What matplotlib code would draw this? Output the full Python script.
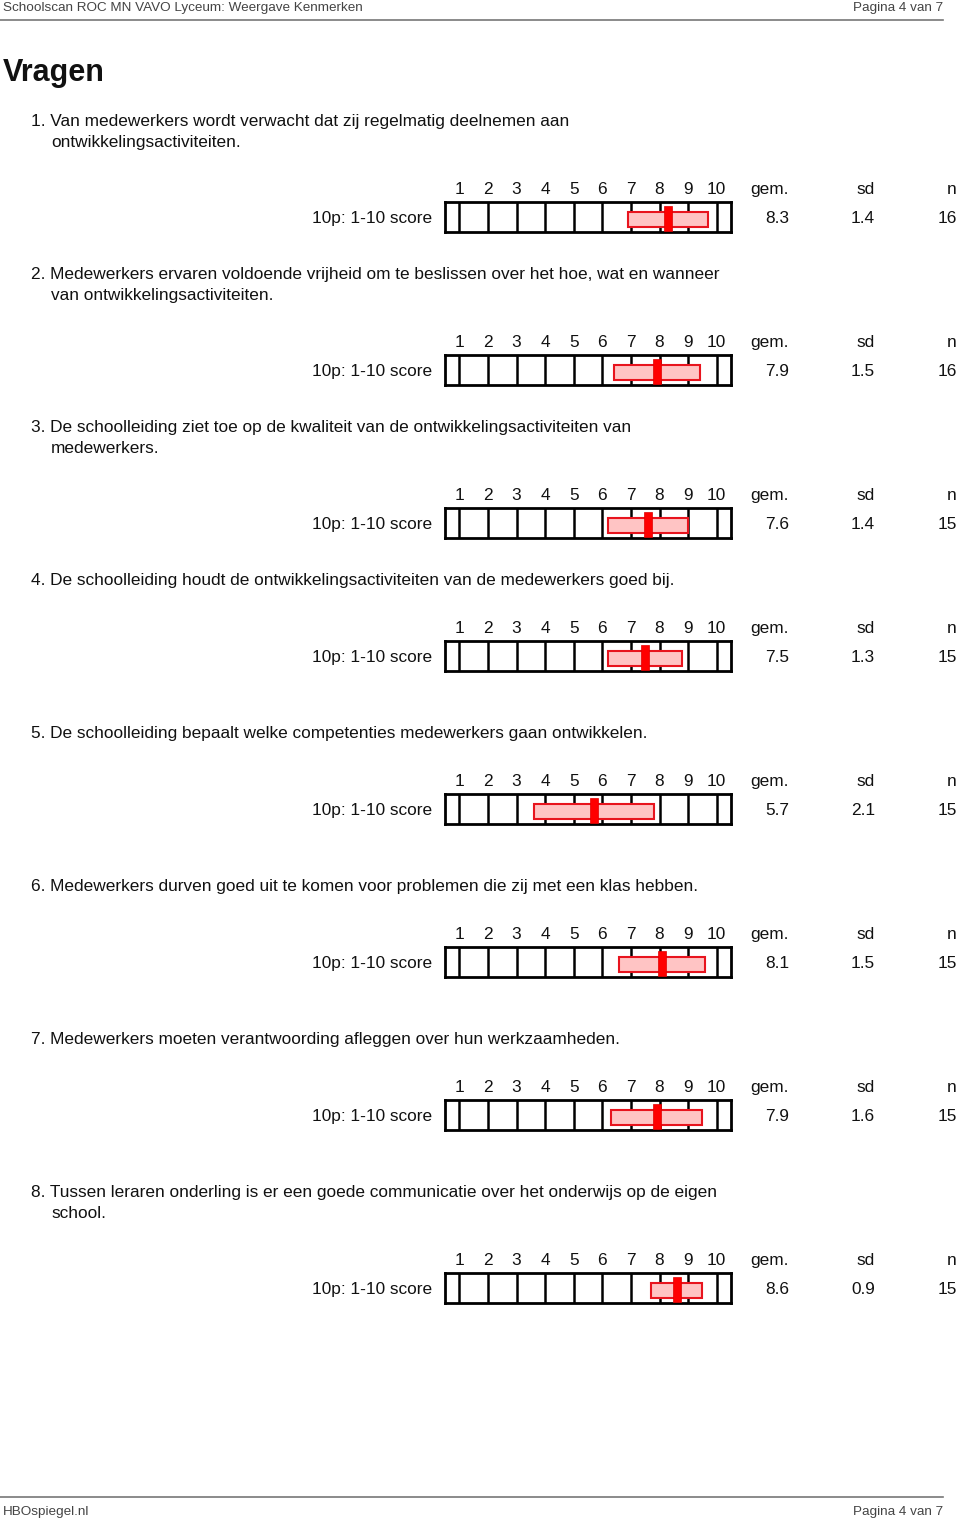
import matplotlib.pyplot as plt
from matplotlib.lines import Line2D

plt.rcParams['font.family'] = ['Liberation Sans', 'DejaVu Sans']

# gegevens per vraag
vragen = [
    "Van medewerkers wordt verwacht dat zij regelmatig deelnemen aan\nontwikkelingsactiviteiten.",
    "Medewerkers ervaren voldoende vrijheid om te beslissen over het hoe, wat en wanneer\nvan ontwikkelingsactiviteiten.",
    "De schoolleiding ziet toe op de kwaliteit van de ontwikkelingsactiviteiten van\nmedewerkers.",
    "De schoolleiding houdt de ontwikkelingsactiviteiten van de medewerkers goed bij.",
    "De schoolleiding bepaalt welke competenties medewerkers gaan ontwikkelen.",
    "Medewerkers durven goed uit te komen voor problemen die zij met een klas hebben.",
    "Medewerkers moeten verantwoording afleggen over hun werkzaamheden.",
    "Tussen leraren onderling is er een goede communicatie over het onderwijs op de eigen\nschool.",
]
gem = [8.3, 7.9, 7.6, 7.5, 5.7, 8.1, 7.9, 8.6]
sd = [1.4, 1.5, 1.4, 1.3, 2.1, 1.5, 1.6, 0.9]
n = [16, 16, 15, 15, 15, 15, 15, 15]
schaal = list(range(1, 11))
label = "10p: 1-10 score"

W, H = 960, 1521
fig = plt.figure(figsize=(W / 100, H / 100), dpi=100)


def fx(x):
    return x / W


def fy(y):
    return 1 - (y + 1.5) / H


def txt(x, y, s, **kw):
    kw.setdefault('va', 'center')
    kw.setdefault('fontsize', 12.4)
    kw.setdefault('color', '#111111')
    fig.text(fx(x), fy(y), s, **kw)


# kop en voet
txt(3, 6, "Schoolscan ROC MN VAVO Lyceum: Weergave Kenmerken", fontsize=9.7, color='#444444')
txt(943, 6, "Pagina 4 van 7", fontsize=9.7, color='#444444', ha='right')
fig.add_artist(Line2D([0, fx(943)], [1 - 20 / H, 1 - 20 / H], color='#777777', lw=1.2,
                      transform=fig.transFigure))
fig.add_artist(Line2D([0, fx(943)], [1 - 1497 / H, 1 - 1497 / H], color='#777777', lw=1.2,
                      transform=fig.transFigure))
txt(3, 1511, "HBOspiegel.nl", fontsize=9.7, color='#444444')
txt(943, 1511, "Pagina 4 van 7", fontsize=9.7, color='#444444', ha='right')

txt(3, 71, "Vragen", fontsize=22, fontweight='bold')

box_l, box_r = 445, 731
for i, vraag in enumerate(vragen):
    y0 = 120 + 153 * i
    regels = vraag.split("\n")
    for j, r in enumerate(regels):
        if j == 0:
            txt(31, y0, "%d. %s" % (i + 1, r))
        else:
            txt(51, y0 + 21 * j, r)
    yh = y0 + 48 + 20 * (len(regels) - 1)
    yr = yh + 29

    # koptekst schaal
    for k in schaal:
        xk = box_l + (k - 0.5) / 10 * (box_r - box_l)
        txt(xk, yh, str(k), ha='center')
    txt(789, yh, "gem.", ha='right')
    txt(875, yh, "sd", ha='right')
    txt(957, yh, "n", ha='right')

    txt(432, yr, label, ha='right')
    txt(789, yr, "%.1f" % gem[i], ha='right')
    txt(875, yr, "%.1f" % sd[i], ha='right')
    txt(957, yr, str(n[i]), ha='right')

    ax = fig.add_axes([fx(box_l), 1 - (yr + 15) / H, fx(box_r - box_l), 30 / H])
    ax.set_xlim(0.5, 10.5)
    ax.set_ylim(0, 1)
    ax.set_xticks([])
    ax.set_yticks([])
    for s in ax.spines.values():
        s.set_linewidth(2)
    ax.vlines(schaal, 0, 1, color='black', lw=1.8)
    ax.barh(0.43, 2 * sd[i], left=gem[i] - sd[i], height=0.5,
            color='#ffc4c4', edgecolor='#e8141e', lw=1.5, zorder=3)
    ax.barh(0.45, 0.28, left=gem[i] - 0.14, height=0.84,
            color='#ff0000', edgecolor='#e00000', lw=0.5, zorder=4)

fig.savefig("out.png", dpi=100)
